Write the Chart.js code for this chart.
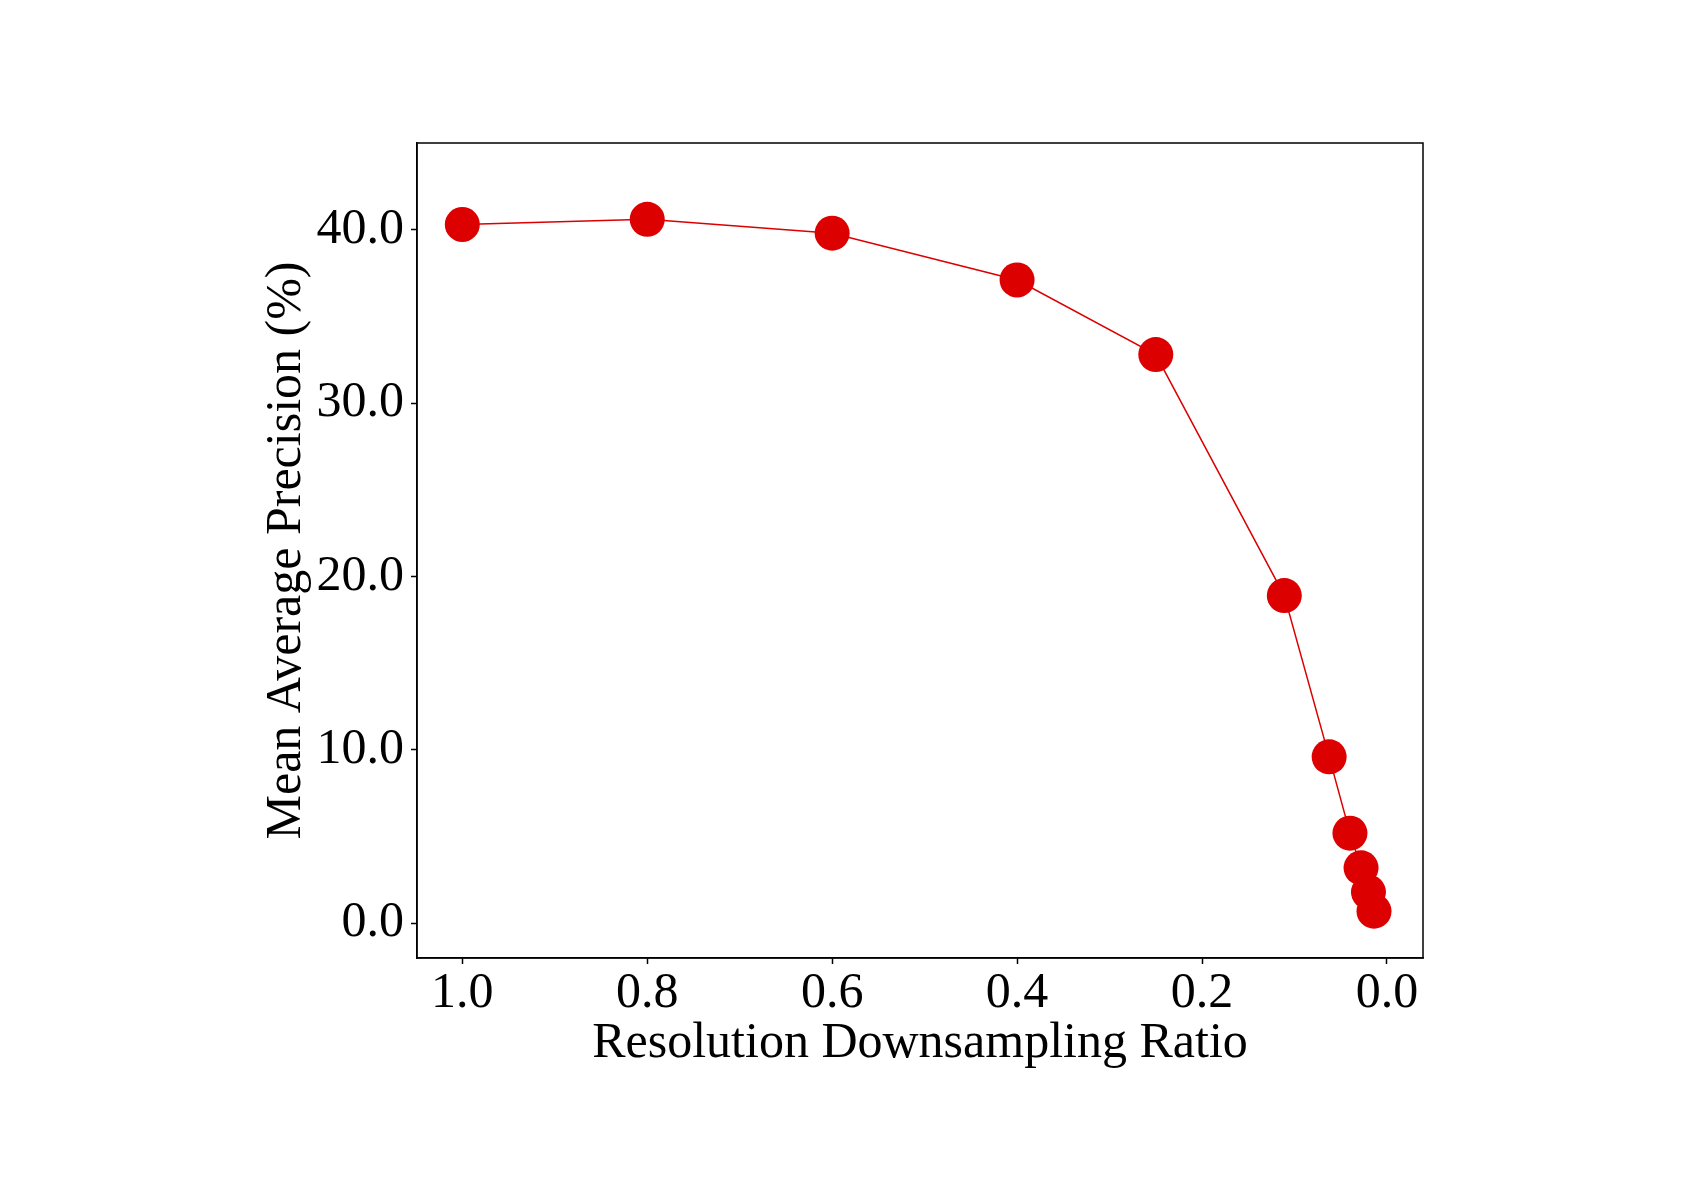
<!DOCTYPE html>
<html>
<head>
<meta charset="utf-8">
<script src="https://cdn.jsdelivr.net/npm/chart.js@4.4.0/dist/chart.umd.min.js"></script>
<style>
  html, body { margin: 0; padding: 0; background: #fff; }
  #wrap { width: 1695px; height: 1198px; }
</style>
</head>
<body>
<div id="wrap"><canvas id="mapChart" width="1695" height="1198"></canvas></div>
<script>
// downsampling ratio vs. mAP
var ratios = [1.0, 0.8, 0.6, 0.4, 0.25, 0.111, 0.0625, 0.04, 0.028, 0.02, 0.014];
var mapValues = [40.3, 40.6, 39.8, 37.1, 32.8, 18.9, 9.6, 5.2, 3.2, 1.8, 0.7];
var xTicks = [1.0, 0.8, 0.6, 0.4, 0.2, 0.0];
var yTicks = [0, 10, 20, 30, 40];

var serif = "'Liberation Serif', 'Times New Roman', 'DejaVu Serif', serif";
var red = '#dc0000';

var points = [];
for (var i = 0; i < ratios.length; i++) {
    points.push({ x: ratios[i], y: mapValues[i] });
}

// matplotlib style box around the plot area
var frame = {
    id: 'frame',
    afterDraw: function(chart) {
        var a = chart.chartArea;
        var ctx = chart.ctx;
        ctx.save();
        ctx.strokeStyle = '#000';
        ctx.lineWidth = 1.5;
        ctx.strokeRect(a.left, a.top, a.right - a.left, a.bottom - a.top);
        ctx.restore();
    }
};

var tickFont = { family: serif, size: 50 };
var titleFont = { family: serif, size: 50 };

new Chart(document.getElementById('mapChart').getContext('2d'), {
    type: 'scatter',
    data: {
        datasets: [{
            label: 'mAP',
            data: points,
            showLine: true,
            borderColor: red,
            borderWidth: 1.5,
            backgroundColor: red,
            pointBackgroundColor: red,
            pointBorderWidth: 0,
            pointRadius: 17.5,
            pointHoverRadius: 17.5
        }]
    },
    plugins: [frame],
    options: {
        responsive: false,
        devicePixelRatio: 1,
        animation: false,
        events: [],
        layout: { padding: { left: 250, right: 272, top: 143, bottom: 120 } },
        plugins: {
            legend: { display: false },
            tooltip: { enabled: false }
        },
        scales: {
            x: {
                type: 'linear',
                reverse: true,
                min: -0.039,
                max: 1.049,
                afterBuildTicks: function(scale) {
                    scale.ticks = xTicks.map(function(v) { return { value: v }; });
                },
                afterFit: function(scale) { scale.height = 120; },
                grid: {
                    display: true,
                    drawOnChartArea: false,
                    drawTicks: true,
                    tickLength: 6,
                    tickWidth: 1.5,
                    tickColor: '#000'
                },
                border: { display: true, color: '#000', width: 1.5 },
                ticks: {
                    color: '#000',
                    font: tickFont,
                    padding: 0,
                    maxRotation: 0,
                    callback: function(v) { return Number(v).toFixed(1); }
                },
                title: {
                    display: true,
                    text: 'Resolution Downsampling Ratio',
                    color: '#000',
                    font: titleFont,
                    padding: { top: 0, bottom: 4 }
                }
            },
            y: {
                type: 'linear',
                min: -2,
                max: 45,
                afterBuildTicks: function(scale) {
                    scale.ticks = yTicks.map(function(v) { return { value: v }; });
                },
                afterFit: function(scale) { scale.width = 167; },
                grid: {
                    display: true,
                    drawOnChartArea: false,
                    drawTicks: true,
                    tickLength: 6,
                    tickWidth: 1.5,
                    tickColor: '#000'
                },
                border: { display: true, color: '#000', width: 1.5 },
                ticks: {
                    color: '#000',
                    font: tickFont,
                    padding: 7,
                    callback: function(v) { return Number(v).toFixed(1); }
                },
                title: {
                    display: true,
                    text: 'Mean Average Precision (%)',
                    color: '#000',
                    font: titleFont,
                    padding: { top: 7, bottom: 0 }
                }
            }
        }
    }
});
</script>
</body>
</html>
